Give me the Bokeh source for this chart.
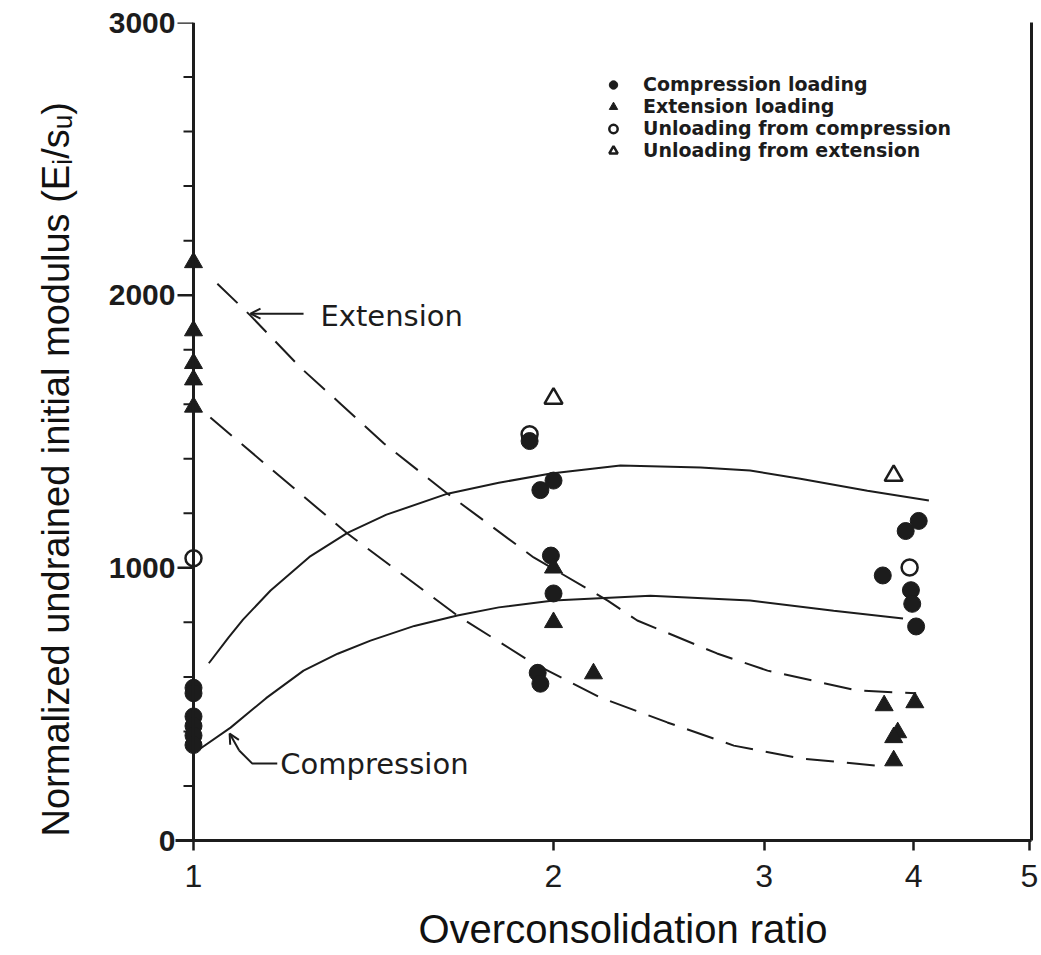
from bokeh.plotting import figure
from bokeh.models import (Range1d, FixedTicker, LinearAxis, Legend, LegendItem, Arrow,
                          OpenHead, Label, Title, Span, PrintfTickFormatter)
from bokeh.embed import file_html
from bokeh.resources import INLINE

# ---------------- data ----------------
# Compression loading (filled circles)
comp_load_x = [1, 1, 1, 1, 1, 1, 1.91, 1.95, 2.0, 1.99, 2.0, 1.94, 1.95, 3.77, 3.94, 4.04, 3.98, 3.99, 4.02]
comp_load_y = [560, 540, 455, 420, 385, 350, 1465, 1285, 1320, 1045, 906, 615, 575, 972, 1135, 1172, 918, 868, 785]

# Extension loading (filled triangles)
ext_load_x = [1, 1, 1, 1, 1, 2.0, 2.0, 2.16, 3.78, 4.01, 3.88, 3.85, 3.85]
ext_load_y = [2120, 1870, 1750, 1690, 1590, 1000, 800, 612, 495, 506, 396, 378, 293]

# Unloading from compression (open circles)
unl_comp_x = [1, 1.91, 3.97]
unl_comp_y = [1035, 1490, 1001]

# Unloading from extension (open triangles)
unl_ext_x = [2.0, 3.85]
unl_ext_y = [1621, 1338]

# Compression curves (solid)
comp_upper_x = [1.03, 1.07, 1.10, 1.16, 1.25, 1.345, 1.45, 1.631, 1.8, 1.99, 2.275, 2.655, 2.92, 3.217, 3.66, 4.12]
comp_upper_y = [650, 745, 810, 917, 1040, 1128, 1195, 1272, 1312, 1346, 1375, 1368, 1357, 1327, 1283, 1247]
comp_lower_x = [1.01, 1.074, 1.15, 1.236, 1.32, 1.406, 1.53, 1.662, 1.8, 2.0, 2.41, 2.92, 3.43, 3.92]
comp_lower_y = [333, 414, 522, 623, 685, 733, 787, 825, 855, 880, 898, 880, 843, 814]

# Extension curves (dashed)
ext_upper_x = [1.047, 1.116, 1.229, 1.327, 1.443, 1.631, 1.925, 2.22, 2.35, 2.74, 3.02, 3.59, 4.02]
ext_upper_y = [2042, 1925, 1734, 1602, 1456, 1272, 1038, 880, 807, 686, 623, 550, 540]
ext_lower_x = [1.033, 1.345, 1.662, 1.925, 2.19, 2.49, 2.83, 3.22, 3.72]
ext_lower_y = [1551, 1126, 825, 649, 524, 433, 348, 301, 275]

x_ticks = [1, 2, 3, 4, 5]
y_ticks = [0, 1000, 2000, 3000]
y_minor = list(range(0, 3001, 200))

INK = "#1c1c1c"
PX_PER_DECADE = 1196.0  # frame scale: log10 decade in pixels


def left_of_axis(px):
    """x data coordinate lying px pixels to the left of x = 1 (log axis)."""
    return 10 ** (-px / PX_PER_DECADE)


p = figure(x_axis_type="log", x_range=Range1d(left_of_axis(18), 5.02), y_range=Range1d(0, 3000),
           width=1039, height=955,
           min_border_left=175, min_border_top=22, min_border_right=8, min_border_bottom=115,
           output_backend="svg", toolbar_location=None)
p.grid.visible = False
p.outline_line_color = None
p.background_fill_color = "white"

# y axis: labels only; the axis line and ticks are drawn at x = 1 below
yax = p.yaxis[0]
yax.ticker = FixedTicker(ticks=y_ticks, minor_ticks=[])
yax.axis_line_color = None
yax.major_tick_line_color = None
yax.minor_tick_line_color = None
yax.major_tick_out = 0
yax.major_tick_in = 0
yax.minor_tick_out = 0
yax.major_label_text_font = "Liberation Sans"
yax.major_label_text_font_style = "bold"
yax.major_label_text_font_size = "30px"
yax.major_label_text_color = INK
yax.major_label_standoff = 0

p.add_layout(Span(location=1, dimension="height", line_width=3, line_color=INK))
maj_y = [v for v in y_minor if v in y_ticks]
min_y = [v for v in y_minor if v not in y_ticks]
p.segment(x0=[left_of_axis(16)] * len(maj_y), y0=maj_y, x1=[1] * len(maj_y), y1=maj_y,
          line_width=2.5, line_color=INK)
p.segment(x0=[left_of_axis(10)] * len(min_y), y0=min_y, x1=[1] * len(min_y), y1=min_y,
          line_width=2, line_color=INK)

# x axis (log)
xax = p.xaxis[0]
xax.ticker = FixedTicker(ticks=x_ticks, minor_ticks=[])
xax.formatter = PrintfTickFormatter(format="%d")
xax.axis_line_width = 3
xax.axis_line_color = INK
xax.major_tick_line_color = INK
xax.major_tick_line_width = 2.5
xax.major_tick_out = 10
xax.major_tick_in = 0
xax.minor_tick_line_color = None
xax.minor_tick_out = 0
xax.major_label_text_font = "Liberation Sans"
xax.major_label_text_font_size = "32px"
xax.major_label_text_color = INK
xax.major_label_standoff = 14

# right border
rax = LinearAxis(ticker=FixedTicker(ticks=[]), axis_line_width=3, axis_line_color=INK,
                 major_tick_line_color=None, minor_tick_line_color=None,
                 major_tick_out=0, minor_tick_out=0, major_label_standoff=0,
                 major_label_text_font_size="0px")
p.add_layout(rax, "right")

# axis titles (a blank spacer title pushes the x title down to its place)
p.add_layout(Title(text=" ", standoff=2, text_font_size="10px"), "below")
p.add_layout(Title(text="Overconsolidation ratio", align="left", offset=243,
                   vertical_align="bottom", standoff=0, text_font="Liberation Sans",
                   text_font_style="normal", text_font_size="40px", text_color="#111111"),
             "below")
p.add_layout(Title(text="Normalized undrained initial modulus (E\u1d62/s\u1d64)", align="left",
                   offset=4, vertical_align="bottom", standoff=58, text_font="Liberation Sans",
                   text_font_style="normal", text_font_size="38px", text_color="#111111"),
             "left")

# curves
p.line(comp_upper_x, comp_upper_y, line_width=2, color=INK)
p.line(comp_lower_x, comp_lower_y, line_width=2, color=INK)
p.line(ext_upper_x, ext_upper_y, line_width=2, color=INK, line_dash="28 13")
p.line(ext_lower_x, ext_lower_y, line_width=2, color=INK, line_dash="28 13")

# points (open symbols first so filled ones overlap them)
r_uc = p.scatter(unl_comp_x, unl_comp_y, marker="circle", size=16, fill_color="white",
                 line_color=INK, line_width=2.5)
r_ue = p.scatter(unl_ext_x, unl_ext_y, marker="triangle", size=18, fill_color="white",
                 line_color=INK, line_width=2.5)
r_cl = p.scatter(comp_load_x, comp_load_y, marker="circle", size=17, color=INK)
r_el = p.scatter(ext_load_x, ext_load_y, marker="triangle", size=18, color=INK)

legend = Legend(items=[LegendItem(label="Compression loading", renderers=[r_cl]),
                       LegendItem(label="Extension loading", renderers=[r_el]),
                       LegendItem(label="Unloading from compression", renderers=[r_uc]),
                       LegendItem(label="Unloading from extension", renderers=[r_ue])],
                location=(426, 679), border_line_color=None, background_fill_alpha=0,
                padding=0, margin=0, spacing=0, glyph_width=24, glyph_height=21,
                label_height=21, label_standoff=18, label_text_font="DejaVu Sans",
                label_text_font_style="bold", label_text_font_size="19px",
                label_text_color=INK)
p.add_layout(legend)

# annotations
p.add_layout(Arrow(end=OpenHead(size=10, line_width=2, line_color=INK),
                   x_start=1.236, y_start=1932, x_end=1.116, y_end=1932,
                   line_width=2, line_color=INK))
p.add_layout(Label(x=1.277, y=1925, text="Extension", text_baseline="middle",
                   text_font="DejaVu Sans", text_font_size="29px", text_color=INK))
p.line([1.175, 1.120, 1.092], [282, 282, 330], line_width=2, color=INK)
p.add_layout(Arrow(end=OpenHead(size=10, line_width=2, line_color=INK),
                   x_start=1.092, y_start=330, x_end=1.072, y_end=392,
                   line_width=2, line_color=INK))
p.add_layout(Label(x=1.182, y=279, text="Compression", text_baseline="middle",
                   text_font="DejaVu Sans", text_font_size="29px", text_color=INK))

open("out.html", "w").write(file_html(p, INLINE))
